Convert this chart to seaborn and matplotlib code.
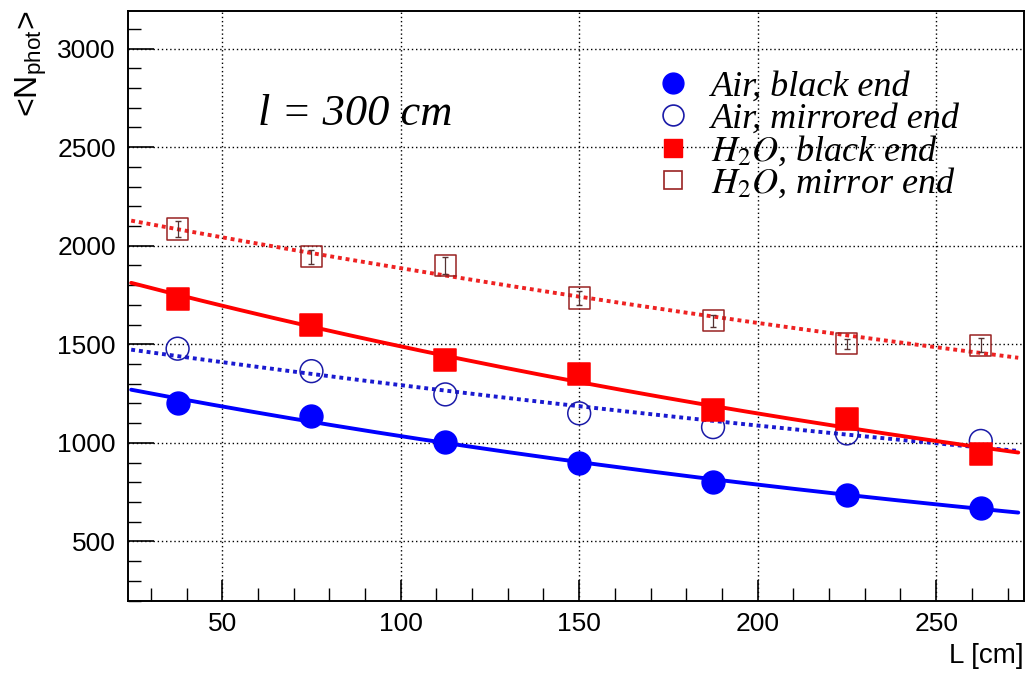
import numpy as np
import pandas as pd
import seaborn as sns
import matplotlib
matplotlib.use("Agg")
import matplotlib.pyplot as plt
from matplotlib.lines import Line2D
from matplotlib.ticker import MultipleLocator

# ---- data ----
L_cm = [37.5, 75, 112.5, 150, 187.5, 225, 262.5]
air_black = [1202, 1138, 1007, 897, 804, 737, 669]
air_mirror = [1478, 1364, 1246, 1150, 1080, 1048, 1010]
h2o_black = [1732, 1600, 1419, 1351, 1165, 1123, 945]
h2o_mirror = [2085, 1945, 1900, 1735, 1620, 1503, 1495]
h2o_mirror_err = [40, 35, 45, 35, 30, 25, 35]
series_labels = ["Air, black end", "Air, mirrored end",
                 r"$H_2O$, black end", r"$H_2O$, mirror end"]
x_ticks = [50, 100, 150, 200, 250]
y_ticks = [500, 1000, 1500, 2000, 2500, 3000]
annotation = "l = 300 cm"

sns.set_style("white")
plt.rcParams["font.family"] = ["Liberation Sans", "DejaVu Sans"]
plt.rcParams["mathtext.fontset"] = "stix"
plt.rcParams["text.color"] = "black"
plt.rcParams["axes.labelcolor"] = "black"
plt.rcParams["xtick.color"] = "black"
plt.rcParams["ytick.color"] = "black"

fig = plt.figure(figsize=(10.35, 6.74), dpi=100)
ax = fig.add_axes([0.124, 0.108, 0.865, 0.876])

series = [
    (air_black, "o", "#0000ff", "#0000ff", "-"),
    (air_mirror, "o", "none", "#1a1aa8", (0, (1, 1))),
    (h2o_black, "s", "#ff0000", "#ff0000", "-"),
    (h2o_mirror, "s", "none", "#992222", (0, (1, 1))),
]
line_colors = ["#0000ff", "#1a1ad0", "#ff0000", "#ee2222"]

xfit = np.linspace(24.5, 273, 200)
for (vals, mk, fc, ec, ls), lab, lc in zip(series, series_labels, line_colors):
    x = np.array(L_cm, float)
    y = np.array(vals, float)
    b, a = np.polyfit(x, np.log(y), 1)
    fit_df = pd.DataFrame({"L": xfit, "N": np.exp(a + b * xfit)})
    sns.lineplot(data=fit_df, x="L", y="N", ax=ax, color=lc, lw=2.8,
                 linestyle=ls, zorder=2)

# error bars for the H2O mirror series
ax.errorbar(L_cm, h2o_mirror, yerr=h2o_mirror_err, fmt="none",
            ecolor="#553333", elinewidth=0.9, capsize=2, zorder=3)

for (vals, mk, fc, ec, ls), lab in zip(series, series_labels):
    df = pd.DataFrame({"L": L_cm, "N": vals})
    size = 270 if mk == "o" else 230
    sns.scatterplot(data=df, x="L", y="N", ax=ax, marker=mk, s=size,
                    facecolor=fc, edgecolor=ec, linewidth=1.1, zorder=4)

ax.set_xlim(23.7, 274.5)
ax.set_ylim(197, 3192)
ax.set_xticks(x_ticks)
ax.set_yticks(y_ticks)
ax.xaxis.set_minor_locator(MultipleLocator(10))
ax.yaxis.set_minor_locator(MultipleLocator(100))
ax.tick_params(axis="y", which="major", direction="in", length=19, width=1.2,
               labelsize=19, pad=9, right=False, left=True, labelcolor="black")
ax.tick_params(axis="y", which="minor", direction="in", length=9.5, width=1.0,
               right=False, left=True)
ax.tick_params(axis="x", which="major", direction="in", length=15, width=1.2,
               labelsize=19, pad=8, top=False, bottom=True, labelcolor="black")
ax.tick_params(axis="x", which="minor", direction="in", length=9.5, width=1.0,
               top=False, bottom=True)
for sp in ax.spines.values():
    sp.set_color("black")
    sp.set_linewidth(1.4)

ax.set_axisbelow(True)
ax.grid(True, which="major", color="black", linestyle=(0, (1, 2)), lw=1.0)

ax.set_xlabel("L [cm]", fontsize=20, loc="right", labelpad=5, color="black")
ax.set_ylabel(r"<N$_{\mathregular{phot}}$>", fontsize=23, loc="top", labelpad=6,
              color="black")

ax.text(60, 2668, annotation, fontsize=32, family="Liberation Serif",
        style="italic", va="center", ha="left", color="black")

handles = [
    Line2D([], [], ls="none", marker="o", ms=15, mfc="#0000ff", mec="#0000ff"),
    Line2D([], [], ls="none", marker="o", ms=15, mfc="none", mec="#1a1aa8", mew=1.2),
    Line2D([], [], ls="none", marker="s", ms=13, mfc="#ff0000", mec="#ff0000"),
    Line2D([], [], ls="none", marker="s", ms=13, mfc="none", mec="#992222", mew=1.2),
]
leg = ax.legend(handles, series_labels, loc="upper left",
                bbox_to_anchor=(0.566, 0.929), frameon=False,
                prop={"family": "Liberation Serif", "style": "italic", "size": 26},
                handletextpad=0.5, labelspacing=-0.05, borderpad=0,
                handlelength=1.1)
for t in leg.get_texts():
    t.set_color("black")

fig.savefig("out.png", dpi=100)
